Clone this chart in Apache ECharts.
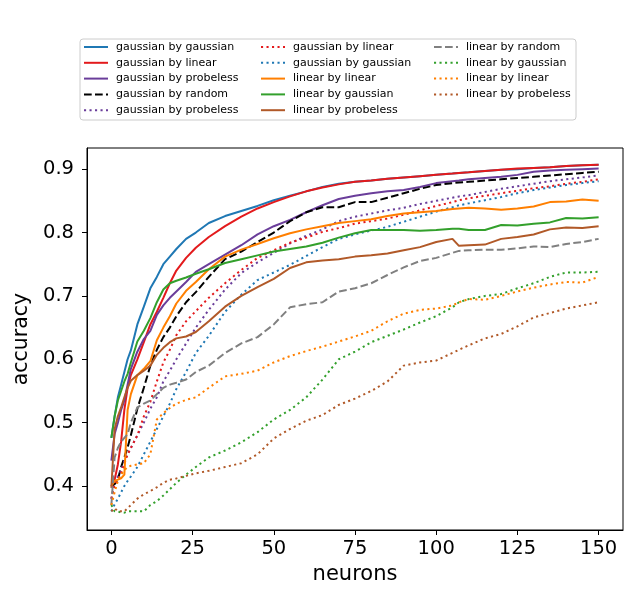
<!DOCTYPE html>
<html>
<head>
<meta charset="utf-8">
<script src="https://cdn.jsdelivr.net/npm/echarts@6/dist/echarts.min.js"></script>
<style>
  html, body { margin: 0; padding: 0; background: #fff; }
  #main { width: 640px; height: 600px; }
</style>
</head>
<body>
<div id="main"></div>
<script>
// neurons sampled along the x axis
const neurons = [0, 1, 2, 3, 4, 5, 6, 8, 10, 12, 14, 16, 18, 20, 23, 26, 30, 35, 40, 45, 50, 55, 60, 65, 70, 75, 80, 85, 90, 95, 100, 105, 107, 110, 115, 120, 125, 130, 135, 140, 145, 150];

const xTicks = [0, 25, 50, 75, 100, 125, 150];
const yTicks = [0.4, 0.5, 0.6, 0.7, 0.8, 0.9];

// gaussian probes
const gaussByGauss = [0.476, 0.51, 0.54, 0.56, 0.58, 0.60, 0.614, 0.655, 0.683, 0.712, 0.73, 0.75, 0.762, 0.774, 0.79, 0.80, 0.815, 0.826, 0.834, 0.842, 0.851, 0.858, 0.865, 0.872, 0.877, 0.880, 0.882, 0.885, 0.887, 0.889, 0.891, 0.893, 0.894, 0.895, 0.897, 0.899, 0.900, 0.902, 0.903, 0.905, 0.906, 0.907];
const gaussByLinear = [0.40, 0.41, 0.434, 0.47, 0.52, 0.555, 0.575, 0.60, 0.627, 0.655, 0.675, 0.697, 0.72, 0.74, 0.76, 0.776, 0.793, 0.81, 0.825, 0.838, 0.848, 0.857, 0.865, 0.871, 0.876, 0.880, 0.882, 0.885, 0.887, 0.889, 0.891, 0.893, 0.894, 0.895, 0.897, 0.899, 0.901, 0.902, 0.903, 0.905, 0.906, 0.907];
const gaussByProbeless = [0.44, 0.482, 0.50, 0.52, 0.535, 0.56, 0.585, 0.612, 0.632, 0.645, 0.67, 0.685, 0.697, 0.707, 0.722, 0.738, 0.75, 0.765, 0.78, 0.797, 0.81, 0.82, 0.832, 0.843, 0.853, 0.858, 0.862, 0.865, 0.867, 0.872, 0.878, 0.881, 0.882, 0.884, 0.886, 0.888, 0.891, 0.896, 0.898, 0.899, 0.900, 0.901];
const gaussByRandom = [0.40, 0.403, 0.41, 0.43, 0.445, 0.461, 0.48, 0.522, 0.555, 0.59, 0.615, 0.635, 0.65, 0.668, 0.69, 0.706, 0.73, 0.758, 0.77, 0.785, 0.80, 0.818, 0.832, 0.84, 0.84, 0.848, 0.848, 0.855, 0.862, 0.869, 0.875, 0.878, 0.879, 0.88, 0.882, 0.884, 0.886, 0.888, 0.89, 0.892, 0.894, 0.896];
const gaussByProbelessDot = [0.38, 0.405, 0.415, 0.425, 0.44, 0.45, 0.46, 0.48, 0.50, 0.522, 0.54, 0.565, 0.582, 0.60, 0.625, 0.65, 0.678, 0.71, 0.736, 0.753, 0.768, 0.783, 0.795, 0.805, 0.818, 0.825, 0.83, 0.835, 0.839, 0.845, 0.85, 0.855, 0.857, 0.859, 0.864, 0.869, 0.873, 0.877, 0.881, 0.884, 0.887, 0.890];
const gaussByLinearDot = [0.38, 0.403, 0.41, 0.42, 0.435, 0.45, 0.46, 0.48, 0.51, 0.533, 0.565, 0.595, 0.615, 0.638, 0.66, 0.676, 0.697, 0.72, 0.741, 0.76, 0.772, 0.784, 0.792, 0.801, 0.807, 0.814, 0.818, 0.822, 0.828, 0.835, 0.842, 0.848, 0.851, 0.854, 0.858, 0.862, 0.866, 0.870, 0.873, 0.877, 0.880, 0.884];
const gaussByGaussDot = [0.36, 0.371, 0.38, 0.39, 0.40, 0.408, 0.415, 0.43, 0.45, 0.47, 0.49, 0.51, 0.53, 0.553, 0.58, 0.61, 0.637, 0.675, 0.702, 0.725, 0.737, 0.749, 0.763, 0.777, 0.79, 0.797, 0.803, 0.809, 0.817, 0.825, 0.833, 0.84, 0.843, 0.846, 0.851, 0.856, 0.862, 0.867, 0.871, 0.875, 0.878, 0.881];

// linear probes
const linByLinear = [0.40, 0.408, 0.41, 0.412, 0.418, 0.52, 0.545, 0.575, 0.585, 0.597, 0.63, 0.65, 0.668, 0.688, 0.708, 0.722, 0.742, 0.762, 0.773, 0.782, 0.791, 0.799, 0.805, 0.81, 0.815, 0.818, 0.821, 0.826, 0.83, 0.832, 0.834, 0.837, 0.838, 0.839, 0.838, 0.836, 0.838, 0.841, 0.848, 0.849, 0.852, 0.850];
const linByGauss = [0.476, 0.51, 0.535, 0.55, 0.565, 0.577, 0.595, 0.628, 0.645, 0.665, 0.69, 0.71, 0.72, 0.724, 0.729, 0.735, 0.742, 0.752, 0.758, 0.764, 0.77, 0.774, 0.778, 0.784, 0.792, 0.799, 0.804, 0.804, 0.804, 0.803, 0.804, 0.806, 0.806, 0.804, 0.804, 0.812, 0.811, 0.814, 0.816, 0.823, 0.822, 0.824];
const linByProbeless = [0.397, 0.49, 0.51, 0.524, 0.54, 0.555, 0.566, 0.575, 0.582, 0.59, 0.607, 0.618, 0.627, 0.633, 0.636, 0.643, 0.66, 0.683, 0.70, 0.714, 0.727, 0.744, 0.753, 0.756, 0.758, 0.762, 0.764, 0.767, 0.772, 0.777, 0.785, 0.79, 0.779, 0.78, 0.781, 0.790, 0.793, 0.797, 0.805, 0.808, 0.807, 0.810];
const linByRandom = [0.37, 0.445, 0.46, 0.47, 0.476, 0.482, 0.50, 0.524, 0.53, 0.535, 0.545, 0.555, 0.56, 0.563, 0.568, 0.58, 0.59, 0.61, 0.625, 0.635, 0.655, 0.682, 0.687, 0.69, 0.707, 0.712, 0.72, 0.733, 0.745, 0.755, 0.76, 0.768, 0.771, 0.772, 0.773, 0.773, 0.775, 0.778, 0.777, 0.782, 0.785, 0.790];
const linByGaussDot = [0.37, 0.36, 0.36, 0.358, 0.358, 0.36, 0.36, 0.36, 0.36, 0.37, 0.376, 0.385, 0.395, 0.405, 0.418, 0.43, 0.445, 0.456, 0.469, 0.485, 0.505, 0.52, 0.54, 0.568, 0.60, 0.612, 0.627, 0.637, 0.647, 0.658, 0.668, 0.682, 0.69, 0.695, 0.70, 0.703, 0.712, 0.72, 0.73, 0.737, 0.737, 0.738];
const linByLinearDot = [0.37, 0.39, 0.408, 0.418, 0.425, 0.43, 0.432, 0.434, 0.436, 0.45, 0.505, 0.515, 0.523, 0.53, 0.536, 0.54, 0.555, 0.573, 0.577, 0.582, 0.595, 0.605, 0.613, 0.62, 0.628, 0.636, 0.645, 0.66, 0.672, 0.678, 0.68, 0.685, 0.69, 0.695, 0.694, 0.70, 0.707, 0.713, 0.718, 0.722, 0.721, 0.73];
const linByProbelessDot = [0.36, 0.365, 0.36, 0.36, 0.36, 0.365, 0.37, 0.38, 0.387, 0.392, 0.398, 0.405, 0.41, 0.412, 0.416, 0.42, 0.424, 0.43, 0.436, 0.45, 0.475, 0.49, 0.503, 0.512, 0.528, 0.538, 0.55, 0.565, 0.59, 0.595, 0.598, 0.61, 0.615, 0.622, 0.633, 0.64, 0.652, 0.666, 0.673, 0.68, 0.685, 0.69];

const SOLID = 'solid';
const DASH = [7.7, 3.3];
const DOT = [2.1, 3.4];

// legend text, style, colour, values (trailing spaces keep duplicate names apart)
const lines = [
  ['gaussian by gaussian', SOLID, '#1f78b4', gaussByGauss],
  ['gaussian by linear', SOLID, '#e31a1c', gaussByLinear],
  ['gaussian by probeless', SOLID, '#6a3d9a', gaussByProbeless],
  ['gaussian by random', DASH, '#000000', gaussByRandom],
  ['gaussian by probeless ', DOT, '#6a3d9a', gaussByProbelessDot],
  ['gaussian by linear ', DOT, '#e31a1c', gaussByLinearDot],
  ['gaussian by gaussian ', DOT, '#1f78b4', gaussByGaussDot],
  ['linear by linear', SOLID, '#ff7f00', linByLinear],
  ['linear by gaussian', SOLID, '#33a02c', linByGauss],
  ['linear by probeless', SOLID, '#b15928', linByProbeless],
  ['linear by random', DASH, '#808080', linByRandom],
  ['linear by gaussian ', DOT, '#33a02c', linByGaussDot],
  ['linear by linear ', DOT, '#ff7f00', linByLinearDot],
  ['linear by probeless ', DOT, '#b15928', linByProbelessDot]
];

const FONT = 'DejaVu Sans';

let myChart = echarts.init(document.getElementById('main'), null, { renderer: 'canvas' });

const names = lines.map(l => l[0]);
const legendBase = {
  orient: 'vertical',
  top: 41,
  itemWidth: 24,
  itemHeight: 12,
  itemGap: 3.8,
  padding: 0,
  selectedMode: false,
  // hide the circle that line series put in the middle of the handle
  itemStyle: { opacity: 0 },
  formatter: n => n.trim(),
  textStyle: { fontFamily: FONT, fontSize: 11, color: '#000', lineHeight: 12, padding: [0, 0, 0, 3] }
};

myChart.setOption({
  animation: false,
  backgroundColor: '#fff',
  legend: [
    Object.assign({}, legendBase, { left: 83, data: names.slice(0, 5) }),
    Object.assign({}, legendBase, { left: 260, data: names.slice(5, 10) }),
    Object.assign({}, legendBase, { left: 433, data: names.slice(10) })
  ],
  graphic: [{
    type: 'rect',
    shape: { x: 80, y: 39, width: 496, height: 81, r: 3 },
    style: { fill: 'rgba(255,255,255,0.8)', stroke: '#cccccc', lineWidth: 1 },
    z: -1
  }],
  grid: {
    left: 87, right: 17, top: 148, bottom: 70,
    show: true, borderColor: '#000', borderWidth: 1
  },
  xAxis: {
    type: 'value',
    min: -7.5,
    max: 157.5,
    name: 'neurons',
    nameLocation: 'middle',
    nameGap: 30,
    nameTextStyle: { fontFamily: FONT, fontSize: 21, color: '#000' },
    axisLine: { show: true, onZero: false, lineStyle: { color: '#000', width: 1 } },
    axisTick: { show: true, inside: false, length: 5, customValues: xTicks, lineStyle: { color: '#000' } },
    axisLabel: { fontFamily: FONT, fontSize: 19.5, color: '#000', margin: 9, customValues: xTicks },
    splitLine: { show: false }
  },
  yAxis: {
    type: 'value',
    min: 0.3306,
    max: 0.9334,
    name: 'accuracy',
    nameLocation: 'middle',
    nameGap: 51,
    nameTextStyle: { fontFamily: FONT, fontSize: 20.5, color: '#000' },
    axisLine: { show: true, onZero: false, lineStyle: { color: '#000', width: 1 } },
    axisTick: { show: true, inside: false, length: 5, customValues: yTicks, lineStyle: { color: '#000' } },
    axisLabel: { fontFamily: FONT, fontSize: 19.5, color: '#000', margin: 13, customValues: yTicks, formatter: v => v.toFixed(1) },
    splitLine: { show: false }
  },
  series: lines.map(([name, style, color, ys]) => ({
    name: name,
    type: 'line',
    showSymbol: false,
    symbol: 'none',
    data: neurons.map((x, i) => [x, ys[i]]),
    itemStyle: { color: color },
    lineStyle: { color: color, width: 2, type: style }
  }))
});
</script>
</body>
</html>
